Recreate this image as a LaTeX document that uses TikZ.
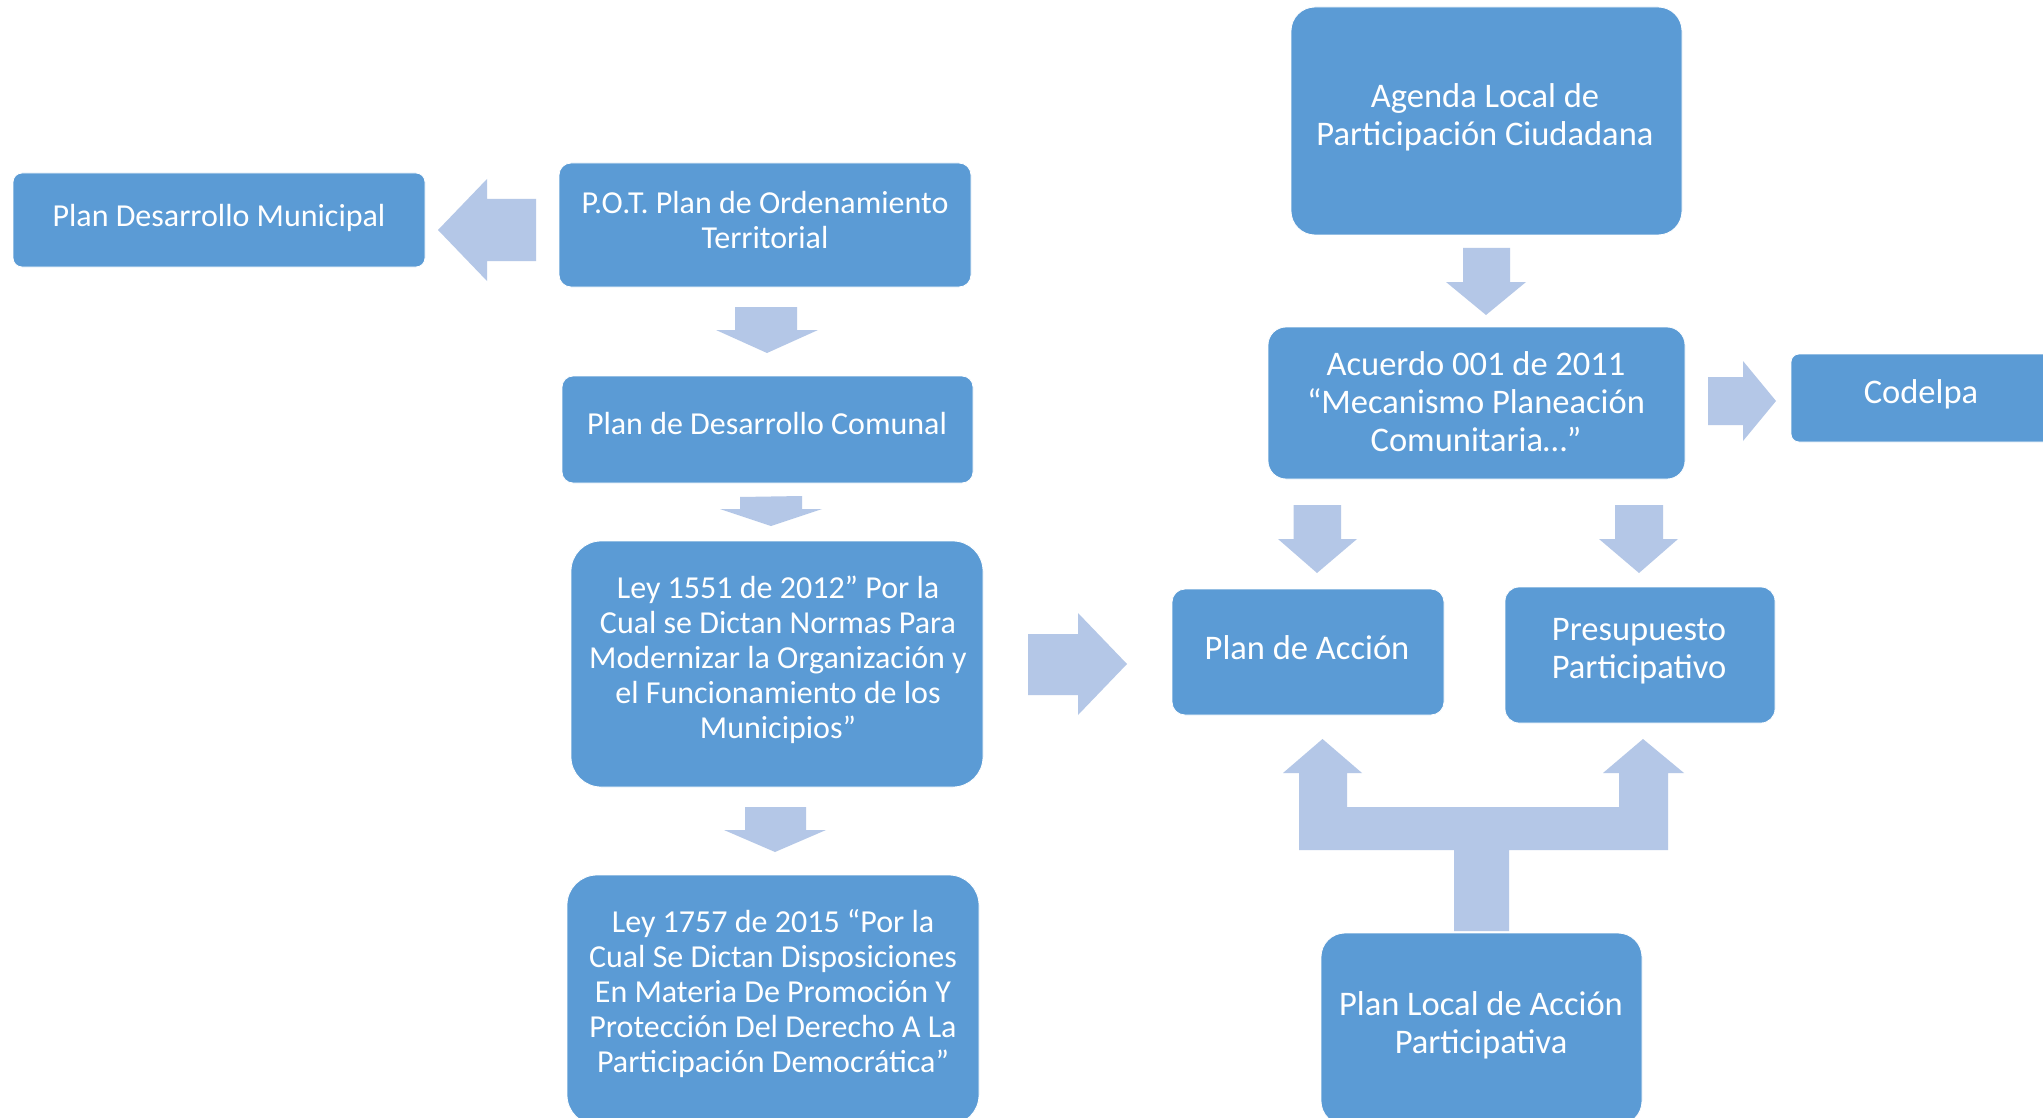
\documentclass[tikz,border=0pt]{standalone}
\usepackage{fontspec}
\setmainfont{Carlito}
\definecolor{boxblue}{HTML}{5B9BD5}
\definecolor{arrowblue}{HTML}{B4C7E7}
\begin{document}
\begin{tikzpicture}[x=1pt,y=-1pt,
  box/.style={fill=boxblue, draw=white, line width=0.8pt, inner sep=0pt},
  txt/.style={text=white, align=center, font=\fontsize{32}{35}\selectfont, inner sep=0pt},
  txtR/.style={text=white, align=center, font=\fontsize{34.5}{38}\selectfont, inner sep=0pt},
  blockarrow/.style={fill=arrowblue, draw=none}]
\fill[white] (0,0) rectangle (2043,1118);
\useasboundingbox (0,0) rectangle (2043,1118);
\begin{scope}
\clip (0,0) rectangle (2043,1118);
% boxes
\node[box, rounded corners=9pt,  minimum width=412pt, minimum height=94pt]  (mun)     at (219,220) {};
\node[box, rounded corners=12pt, minimum width=412pt, minimum height=124pt] (pot)     at (765,225) {};
\node[box, rounded corners=11pt, minimum width=411pt, minimum height=107pt] (com)     at (767.5,429.5) {};
\node[box, rounded corners=30pt, minimum width=412pt, minimum height=246pt] (leyA)    at (777,664) {};
\node[box, rounded corners=30pt, minimum width=412pt, minimum height=250pt] (leyB)    at (773,1000) {};
\node[box, rounded corners=24pt, minimum width=391pt, minimum height=228pt] (agenda)  at (1486.5,121) {};
\node[box, rounded corners=18pt, minimum width=417pt, minimum height=152pt] (acuerdo) at (1476.5,403) {};
\node[box, rounded corners=8pt,  minimum width=260pt, minimum height=88pt]  (codelpa) at (1921,398) {};
\node[box, rounded corners=13pt, minimum width=272pt, minimum height=126pt] (accion)  at (1308,652) {};
\node[box, rounded corners=14pt, minimum width=270pt, minimum height=136pt] (presup)  at (1640,655) {};
\node[box, rounded corners=24pt, minimum width=321pt, minimum height=192pt] (local)   at (1481.5,1029) {};
% texts
\node[txt] (tmun) at (219,218) {Plan Desarrollo Municipal};
\node[txt] (tpot) at (765,220) {P.O.T. Plan de Ordenamiento\\Territorial};
\node[txt] (tcom) at (767,424) {Plan de Desarrollo Comunal};
\node[txt] (tleyA) at (778,660) {Ley 1551 de 2012” Por la\\Cual se Dictan Normas Para\\Modernizar la Organización y\\el Funcionamiento de los\\Municipios”};
\node[txt] (tleyB) at (773,994) {Ley 1757 de 2015 “Por la\\Cual Se Dictan Disposiciones\\En Materia De Promoción Y\\Protección Del Derecho A La\\Participación Democrática”};
\node[txtR] (tagenda) at (1485,117) {Agenda Local de\\Participación Ciudadana};
\node[txtR] (tacuerdo) at (1476,402) {Acuerdo 001 de 2011\\“Mecanismo Planeación\\Comunitaria…”};
\node[txtR] (tcodelpa) at (1921,394) {Codelpa};
\node[txtR] (taccion) at (1307,648) {Plan de Acción};
\node[txtR] (tpresup) at (1639,651) {Presupuesto\\Participativo};
\node[txtR] (tlocal) at (1481,1025) {Plan Local de Acción\\Participativa};
% block arrows
\fill[blockarrow] (536,199) -- (487,199) -- (487,179) -- (438,230) -- (487,281) -- (487,261) -- (536,261) -- cycle;
\fill[blockarrow] (735,307) -- (797,307) -- (797,330) -- (818,330) -- (767,353) -- (716,330) -- (735,330) -- cycle;
\fill[blockarrow] (740,497) -- (802,496) -- (802,509) -- (822,509) -- (771,526) -- (720,509) -- (740,509) -- cycle;
\fill[blockarrow] (745,807) -- (806,807) -- (806,830) -- (826,830) -- (775,852) -- (724,830) -- (745,830) -- cycle;
\fill[blockarrow] (1028,634) -- (1078,634) -- (1078,613) -- (1127,664) -- (1078,715) -- (1078,695) -- (1028,695) -- cycle;
\fill[blockarrow] (1463,248) -- (1510,248) -- (1510,282) -- (1526,282) -- (1486,315) -- (1446,282) -- (1463,282) -- cycle;
\fill[blockarrow] (1708,377) -- (1743,377) -- (1743,361) -- (1776,401) -- (1743,441) -- (1743,425) -- (1708,425) -- cycle;
\fill[blockarrow] (1293.5,505) -- (1341,505) -- (1341,539) -- (1357,539) -- (1317,573) -- (1278,539) -- (1293.5,539) -- cycle;
\fill[blockarrow] (1615,505) -- (1663,505) -- (1663,539) -- (1678,539) -- (1639,573) -- (1599,539) -- (1615,539) -- cycle;
\fill[blockarrow] (1454,931) -- (1454,850) -- (1299,850) -- (1299,773) -- (1283,773) -- (1322.5,739) -- (1362,773) -- (1347,773) -- (1347,807) -- (1619,807) -- (1619,773) -- (1603,773) -- (1643,739) -- (1684,773) -- (1668,773) -- (1668,850) -- (1509,850) -- (1509,931) -- cycle;
\end{scope}
\end{tikzpicture}
\end{document}
